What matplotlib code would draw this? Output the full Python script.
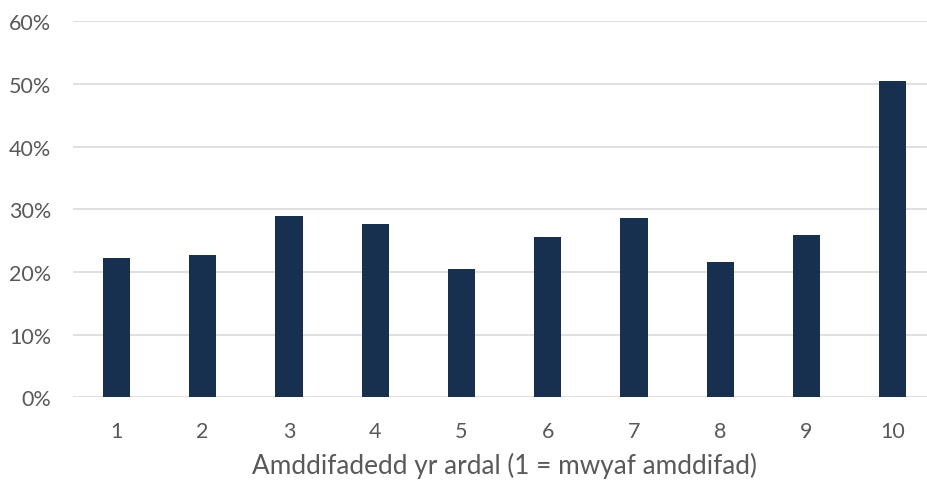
import matplotlib
matplotlib.use("Agg")
import matplotlib.pyplot as plt
from matplotlib.ticker import PercentFormatter, MultipleLocator

categories = ["1", "2", "3", "4", "5", "6", "7", "8", "9", "10"]
values = [22.3, 22.7, 29.0, 27.7, 20.4, 25.6, 28.6, 21.6, 25.9, 50.5]
xlabel = "Amddifadedd yr ardal (1 = mwyaf amddifad)"

plt.rcParams['font.family'] = ['Lato', 'DejaVu Sans']

fig = plt.figure(figsize=(9.28, 4.81), dpi=100)
W, H = 928, 481
left, right = 73.2, 936.0
bottom, top = 398.3, 22.3
ax = fig.add_axes([left / W, (H - bottom) / H, (right - left) / W, (bottom - top) / H])

x = list(range(len(categories)))
ax.bar(x, values, width=0.316, color="#17304f", zorder=3)
ax.set_xlim(-0.5, len(categories) - 0.5)
ax.set_ylim(0, 60)
ax.yaxis.set_major_locator(MultipleLocator(10))
ax.yaxis.set_major_formatter(PercentFormatter(decimals=0))
ax.set_xticks(x)
ax.set_xticklabels(categories)

ax.grid(axis="y", color="#d9d9d9", linewidth=1.2, zorder=0)
ax.set_axisbelow(True)
for s in ax.spines.values():
    s.set_visible(False)
ax.tick_params(axis="both", length=0, colors="#595959", labelsize=15.5)
ax.tick_params(axis="y", pad=16)
ax.tick_params(axis="x", pad=17)
ax.set_xlabel(xlabel, fontsize=18.8, color="#595959", labelpad=8)

fig.savefig("out.png", dpi=100, facecolor="white")
